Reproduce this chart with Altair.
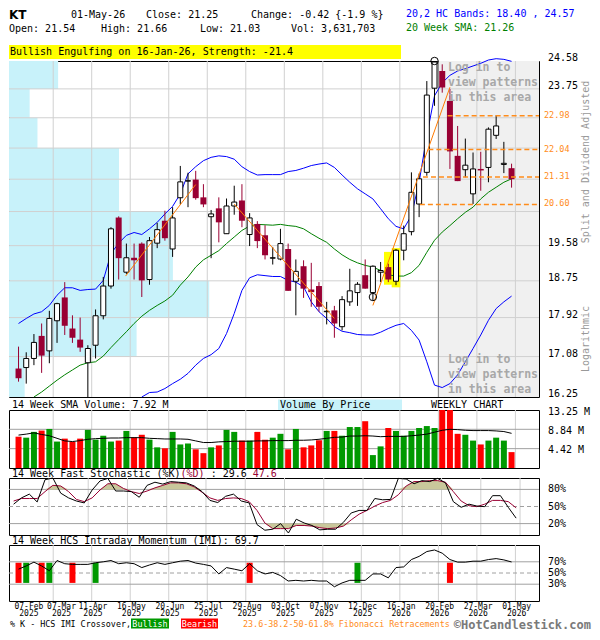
import altair as alt
import pandas as pd

# ---------------- data ----------------
weeks = list(range(65))
opens = [16.83, 16.85, 17.04, 17.52, 17.20, 17.85, 18.37, 17.68, 17.44, 16.95,
         17.32, 17.96, 18.63, 20.27, 18.95, 19.29, 19.63, 18.78, 19.64, 20.19,
         19.50, 20.77, 21.20, 21.24, 20.78, 20.29, 20.50, 19.87, 20.56, 20.70,
         19.85, 20.11, 19.83, 19.28, 19.26, 19.50, 18.74, 19.09, 18.55, 18.63,
         18.05, 18.08, 17.72, 18.27, 18.48, 18.88, 18.48, 18.95, 19.07, 18.74,
         19.47, 19.92, 20.61, 21.43, 23.77, 24.28, 23.40, 21.87, 21.50, 20.87,
         21.52, 21.56, 22.43, 21.64, 21.54]
highs = [17.29, 17.17, 17.56, 17.79, 18.07, 18.25, 18.72, 17.97, 17.92, 17.32,
         18.10, 18.84, 20.03, 20.30, 19.63, 19.63, 19.66, 19.79, 20.14, 20.44,
         20.53, 21.60, 21.42, 21.47, 21.12, 20.46, 20.78, 20.75, 21.08, 21.12,
         20.38, 20.18, 20.08, 19.55, 19.99, 19.63, 19.25, 19.23, 19.17, 18.72,
         18.27, 18.18, 18.40, 19.03, 18.72, 19.25, 19.11, 19.19, 19.15, 19.50,
         20.07, 21.43, 21.40, 23.98, 24.58, 24.48, 23.75, 22.69, 22.34, 21.96,
         21.98, 22.65, 22.99, 22.25, 21.66]
lows = [16.56, 16.52, 16.90, 16.74, 16.94, 17.37, 17.54, 17.37, 17.18, 16.19,
        17.04, 17.88, 18.57, 18.78, 18.91, 18.78, 18.38, 18.66, 19.52, 19.70,
        19.31, 20.60, 20.53, 20.72, 20.53, 19.28, 19.66, 19.87, 20.34, 20.03,
        19.57, 19.52, 19.25, 19.13, 19.23, 18.52, 17.97, 18.36, 18.16, 18.05,
        17.77, 17.48, 17.64, 18.18, 18.18, 18.57, 18.31, 18.72, 18.72, 18.65,
        19.23, 19.83, 20.28, 21.34, 23.26, 23.64, 21.52, 21.20, 21.30, 20.61,
        20.95, 21.17, 22.33, 21.41, 21.03]
closes = [16.63, 17.04, 17.38, 17.10, 17.90, 18.23, 17.74, 17.48, 17.27, 17.25,
          17.96, 18.63, 19.99, 19.28, 19.29, 19.23, 18.76, 19.70, 19.97, 19.76,
          20.26, 21.18, 21.21, 20.76, 20.60, 20.36, 20.15, 20.56, 20.66, 20.19,
          20.26, 19.69, 19.35, 19.29, 19.63, 18.52, 18.97, 18.57, 18.49, 18.16,
          18.06, 17.79, 18.32, 18.52, 18.67, 18.57, 19.09, 18.99, 18.78, 19.47,
          19.87, 20.91, 21.26, 23.57, 24.55, 23.79, 21.99, 21.20, 21.62, 21.52,
          21.48, 22.60, 22.69, 21.67, 21.25]
volume_m = [7.15, 6.93, 8.25, 8.55, 8.92, 6.04, 6.71, 5.97, 6.71, 8.70,
            6.48, 7.37, 6.04, 6.26, 8.47, 7.00, 7.59, 6.48, 4.72, 4.50,
            8.25, 5.38, 5.60, 4.27, 3.39, 4.72, 5.16, 8.70, 8.25, 6.26,
            6.26, 8.25, 6.48, 6.93, 7.81, 4.27, 8.92, 4.72, 5.16, 6.34,
            8.47, 8.47, 7.37, 9.36, 9.36, 10.69, 2.95, 4.94, 9.14, 8.47,
            7.37, 8.47, 9.14, 9.58, 9.14, 14.0, 13.6, 7.81, 7.59, 6.26,
            5.38, 6.26, 6.93, 6.26, 3.63]
vol_sma = [7.52, 7.74, 8.03, 7.66, 7.37, 6.78, 6.19, 6.04, 6.26, 6.56,
           6.71, 6.78, 6.85, 6.85, 6.93, 6.93, 6.93, 6.78, 6.71, 6.63,
           6.63, 6.63, 6.56, 6.19, 5.82, 5.82, 5.97, 6.04, 6.12, 6.12,
           6.12, 6.19, 6.19, 6.26, 6.26, 6.26, 6.34, 6.34, 6.41, 6.56,
           6.78, 7.00, 7.07, 7.30, 7.30, 7.37, 7.30, 7.15, 7.22, 7.22,
           7.22, 7.37, 7.52, 7.74, 8.18, 8.62, 8.84, 8.77, 8.62, 8.55,
           8.55, 8.55, 8.47, 8.33, 7.92]
upper_band = [17.79, 17.90, 18.00, 18.05, 18.19, 18.42, 18.59, 18.59, 18.53, 18.55,
              18.56, 18.76, 19.39, 19.64, 19.83, 19.90, 19.85, 19.99, 20.15, 20.36,
              20.55, 20.87, 21.39, 21.58, 21.74, 21.83, 21.87, 21.85, 21.78, 21.58,
              21.45, 21.36, 21.37, 21.37, 21.37, 21.45, 21.48, 21.54, 21.61, 21.65,
              21.68, 21.56, 21.36, 21.17, 21.00, 20.87, 20.74, 20.49, 20.24, 20.05,
              19.99, 20.32, 21.17, 22.42, 23.55, 23.93, 24.15, 24.28, 24.35, 24.43,
              24.51, 24.61, 24.65, 24.63, 24.57]
lower_weeks = list(range(16, 65))
lower_band = [16.25, 16.34, 16.35, 16.42, 16.52, 16.61, 16.73, 16.90, 17.04, 17.12,
              17.25, 17.57, 18.01, 18.53, 18.82, 18.89, 18.87, 18.85, 18.85, 18.76,
              18.72, 18.61, 18.27, 18.05, 17.90, 17.72, 17.62, 17.59, 17.55, 17.54,
              17.54, 17.60, 17.68, 17.75, 17.79, 17.64, 17.43, 16.97, 16.49, 16.44,
              16.52, 16.70, 16.97, 17.25, 17.54, 17.86, 18.12, 18.27, 18.40]
sma_weeks = list(range(2, 65))
sma20 = [16.25, 16.35, 16.47, 16.59, 16.70, 16.80, 16.90, 16.95, 16.97, 17.09,
         17.27, 17.44, 17.61, 17.79, 17.95, 18.08, 18.19, 18.29, 18.42,
         18.65, 18.84, 19.07, 19.24, 19.35, 19.46, 19.63, 19.79, 19.95, 20.06,
         20.10, 20.09, 20.08, 20.10, 20.07, 20.05, 19.99,
         19.87, 19.76, 19.66,
         19.50, 19.36, 19.25, 19.17, 19.11, 19.07, 18.99, 18.89, 18.86, 18.86,
         18.94, 19.11, 19.42, 19.71, 19.91,
         20.07, 20.24, 20.40, 20.53, 20.74,
         20.91, 21.04, 21.17, 21.26]
stoch_k = [54.1, 65.1, 71.7, 58.0, 97.0, 100.0, 73.4, 65.1, 59.6, 56.3,
           78.9, 94.8, 99.3, 77.2, 77.2, 76.1, 66.2, 87.1, 92.6, 89.3,
           93.7, 92.6, 91.5, 86.0, 76.1, 60.7, 56.9, 67.9, 71.7, 59.6,
           56.3, 18.3, 8.4, 10.1, 20.0, 3.5, 27.7, 21.1, 16.7, 9.0,
           10.1, 10.1, 22.2, 38.7, 43.1, 43.1, 64.0, 61.8, 62.4, 99.3,
           98.2, 89.9, 95.4, 93.7, 99.3, 91.5, 58.5, 48.6, 54.1, 50.8,
           49.7, 69.0, 69.0, 48.6, 29.6]
stoch_d = [59.6, 64.0, 64.0, 64.0, 76.1, 87.1, 86.0, 76.1, 62.4, 58.5,
           65.1, 78.9, 89.9, 89.9, 81.6, 76.1, 72.8, 77.2, 82.7, 87.1,
           91.5, 91.5, 89.9, 84.4, 75.0, 65.1, 60.7, 64.0, 65.1, 64.0,
           58.5, 43.1, 21.1, 11.2, 11.2, 11.2, 16.7, 16.7, 15.6, 12.8,
           11.2, 12.3, 15.6, 26.6, 36.5, 43.1, 50.8, 56.9, 60.7, 70.6,
           86.0, 93.7, 93.7, 95.4, 95.4, 92.6, 76.1, 59.6, 51.4, 49.7,
           54.1, 60.7, 60.7, 58.5, 47.6]
imi = [56.9, 62.6, 69.4, 62.6, 54.0, 72.3, 66.6, 65.4, 65.4, 65.4,
       68.3, 70.0, 72.3, 66.6, 68.3, 66.6, 59.7, 64.3, 68.3, 65.4,
       68.3, 71.1, 72.3, 67.7, 65.4, 62.6, 48.3, 59.7, 56.9, 54.0,
       66.6, 54.0, 48.3, 51.1, 45.4, 35.7, 36.9, 35.7, 36.9, 35.7,
       35.7, 25.4, 32.3, 36.9, 36.9, 36.9, 48.3, 48.3, 41.4, 59.7,
       60.9, 74.0, 79.7, 88.3, 91.1, 85.4, 74.0, 69.4, 69.4, 71.1,
       71.1, 74.0, 75.7, 73.4, 69.7]
xo_weeks = [0, 1, 3, 4, 7, 10, 30, 44, 56]
xo_kinds = ["Bearish", "Bullish", "Bearish", "Bullish", "Bearish", "Bullish",
            "Bearish", "Bullish", "Bearish"]
vbp_hi = [24.58, 23.75, 22.92, 22.08, 21.25, 20.42, 19.58, 18.75, 17.92, 17.08]
vbp_lo = [23.75, 22.92, 22.08, 21.25, 20.42, 19.58, 18.75, 17.92, 17.08, 16.25]
vbp_vol = [22.6, 9.5, 13.1, 50.6, 50.6, 75.4, 75.4, 92.1, 58.7, 7.2]
fib_levels = [22.98, 22.04, 21.31, 20.60]
fib_start = [55.7, 53.2, 52.5, 52.1]
trend_seg = ["a", "a", "b", "b", "c", "c"]
trend_week = [13.9, 23.0, 28.0, 41.0, 46.0, 56.0]
trend_price = [18.86, 21.11, 20.61, 17.90, 18.19, 23.80]
circle_week = [54, 46]
circle_price = [24.58, 18.38]
engulf_week = [48, 49]
engulf_top = [19.43, 19.52]
engulf_bot = [18.66, 18.60]
price_grid = [23.75, 22.92, 22.08, 21.25, 20.42, 19.58, 18.75, 17.92, 17.08]
price_ticks = [24.58, 23.75, 19.58, 18.75, 17.92, 17.08, 16.25]
vol_ticks = [13.25, 8.84, 4.42]
label_weeks = [0, 4, 9, 14, 19, 24, 29, 34, 39, 44, 49, 54, 59, 64]
label_mon = ["07-Feb", "07-Mar", "11-Apr", "16-May", "20-Jun", "25-Jul", "29-Aug",
             "03-Oct", "07-Nov", "12-Dec", "16-Jan", "20-Feb", "27-Mar", "01-May"]
label_year = ["2025"] * 10 + ["2026"] * 4
future_start = [54.5]

# ---------------- styling ----------------
FONT = "DejaVu Sans Mono"
MAROON = "#990033"
RED = "#ff0000"
GREEN = "#009900"
CYAN = "#c8f2fa"
ORANGE = "#ff7a00"
FIBC = "#ff8c1a"
GRIDC = "#d0d0d0"
MIDG = "#a0a0a0"
KHAKI = "#c9c79b"
W = 530
HP, HV, HS, HI = 336, 58, 57, 56
XDOM = [-0.5875, 66.9125]
VBP_MAX = 243.8
CW = 6.02

df = pd.DataFrame(dict(week=weeks, open=opens, high=highs, low=lows, close=closes,
                       vol=volume_m, vsma=vol_sma, k=stoch_k, d=stoch_d, imi=imi,
                       upper=upper_band))
df["up"] = df["close"] >= df["open"]
one = pd.DataFrame({"k": [0]})
grid_df = pd.DataFrame({"g": [w + 0.5 for w in label_weeks[1:]]})


def X(field="week"):
    return alt.X(f"{field}:Q", scale=alt.Scale(domain=XDOM, nice=False, zero=False), axis=None)


def txt(s, x, y, size=10, color="black", align="left", weight="normal", font=FONT,
        angle=None, baseline="middle"):
    kw = dict(text=s, fontSize=size, color=color, align=align, fontWeight=weight,
              font=font, baseline=baseline)
    if angle is not None:
        kw["angle"] = angle
    return alt.Chart(one).mark_text(**kw).encode(x=alt.value(x), y=alt.value(y))


def box(x1, x2, y1, y2, color):
    return alt.Chart(one).mark_rect(color=color).encode(
        x=alt.value(x1), x2=alt.value(x2), y=alt.value(y1), y2=alt.value(y2))


def vgrid(h):
    return alt.Chart(grid_df).mark_rule(color=GRIDC, strokeWidth=1).encode(
        x=X("g"), y=alt.value(0), y2=alt.value(h))


def hrule(vals, scale, color, dash=None):
    kw = dict(color=color, strokeWidth=1)
    if dash:
        kw["strokeDash"] = dash
    return alt.Chart(pd.DataFrame({"v": vals})).mark_rule(**kw).encode(
        y=alt.Y("v:Q", scale=scale, axis=None), x=alt.value(0), x2=alt.value(W))


# ---------------- price panel ----------------
yP = alt.Scale(type="log", domain=[16.25, 24.58], nice=False, zero=False)


def YP(f):
    return alt.Y(f"{f}:Q", scale=yP, axis=None)


vbp = alt.Chart(pd.DataFrame({"hi": vbp_hi, "lo": vbp_lo, "v": vbp_vol})).mark_rect(
    color=CYAN).encode(
    x=alt.X("v:Q", scale=alt.Scale(domain=[0, VBP_MAX], nice=False, zero=True), axis=None),
    x2=alt.value(0), y=YP("hi"), y2="lo:Q")

shade = alt.Chart(pd.DataFrame({"s": future_start})).mark_rect(color="#f0f0f0").encode(
    x=X("s"), x2=alt.value(W), y=alt.value(0), y2=alt.value(HP))
shade_edge = alt.Chart(pd.DataFrame({"s": future_start})).mark_rule(color="#888888").encode(
    x=X("s"), y=alt.value(0), y2=alt.value(HP))
hgrid = alt.Chart(pd.DataFrame({"p": price_grid})).mark_rule(color=GRIDC).encode(
    y=YP("p"), x=alt.value(0), x2=alt.value(W))

engulf = alt.Chart(pd.DataFrame({"week": engulf_week, "top": engulf_top, "bot": engulf_bot})
                   ).transform_calculate(x0="datum.week - 0.56", x1="datum.week + 0.56"
                                         ).mark_rect(color="#ffff00").encode(
    x=X("x0"), x2="x1:Q", y=YP("top"), y2="bot:Q")

band_up = alt.Chart(df).mark_line(color="#0000ff", strokeWidth=1).encode(x=X(), y=YP("upper"))
band_lo = alt.Chart(pd.DataFrame({"week": lower_weeks, "v": lower_band})).mark_line(
    color="#0000ff", strokeWidth=1).encode(x=X(), y=YP("v"))
sma_line = alt.Chart(pd.DataFrame({"week": sma_weeks, "v": sma20})).mark_line(
    color="#008000", strokeWidth=1).encode(x=X(), y=YP("v"))

wick = alt.Chart(df).mark_rule(clip=True, strokeWidth=1).encode(
    x=X(), y=YP("low"), y2="high:Q",
    color=alt.condition("datum.up", alt.value("black"), alt.value(MAROON)))
body_dn = alt.Chart(df).transform_filter("!datum.up").mark_bar(size=6, color=MAROON).encode(
    x=X(), y=YP("open"), y2="close:Q")
body_up = alt.Chart(df).transform_filter("datum.up").mark_bar(
    size=5, fill="white", stroke="black", strokeWidth=1).encode(
    x=X(), y=YP("open"), y2="close:Q")

trend = alt.Chart(pd.DataFrame({"seg": trend_seg, "week": trend_week, "p": trend_price})
                  ).mark_line(color=ORANGE, strokeWidth=1).encode(x=X(), y=YP("p"), detail="seg:N")
circles = alt.Chart(pd.DataFrame({"week": circle_week, "p": circle_price})).mark_point(
    shape="circle", size=55, filled=False, color="black", strokeWidth=1, opacity=1).encode(
    x=X(), y=YP("p"))

fib_df = pd.DataFrame({"level": fib_levels, "start": fib_start})
fib = alt.Chart(fib_df).mark_rule(color=FIBC, strokeDash=[5, 3], strokeWidth=1.5).encode(
    x=X("start"), x2=alt.value(W), y=YP("level"))
fib_lab = alt.Chart(fib_df).mark_text(align="left", fontSize=8.5, color=FIBC, font=FONT,
                                      dy=-1).encode(
    x=alt.value(W + 5), y=YP("level"), text=alt.Text("level:Q", format=".2f"))
price_lab = alt.Chart(pd.DataFrame({"p": price_ticks})).mark_text(
    align="left", fontSize=10, color="black", font=FONT, dy=-3).encode(
    x=alt.value(W + 9), y=YP("p"), text=alt.Text("p:Q", format=".2f"))

LG = "#a8a8a8"
LX = 439
login = [
    txt("Log in to", LX, 7, size=11.5, color=LG, weight="bold"),
    txt("view patterns", LX, 22, size=11.5, color=LG, weight="bold"),
    txt("in this area", LX, 37, size=11.5, color=LG, weight="bold"),
    txt("Log in to", LX, 299, size=11.5, color=LG, weight="bold"),
    txt("view patterns", LX, 314, size=11.5, color=LG, weight="bold"),
    txt("in this area", LX, 329, size=11.5, color=LG, weight="bold"),
]
side = [
    txt("Split and Dividend Adjusted", 577, 101, color="#999999", align="center", angle=270),
    txt("Logarithmic", 577, 278, color="#999999", align="center", angle=270),
]
header = [
    txt("KT", 0, -46, size=12, weight="bold", font="DejaVu Sans"),
    txt("01-May-26", 62, -46),
    txt("Close: 21.25", 137, -46),
    txt("Change: -0.42 {-1.9 %}", 242, -46),
    txt("20,2 HC Bands: 18.40 , 24.57", 397, -47, color="#0000ff"),
    txt("Open: 21.54", 0, -32),
    txt("High: 21.66", 92, -32),
    txt("Low: 21.03", 191, -32),
    txt("Vol: 3,631,703", 282, -32),
    txt("20 Week SMA: 21.26", 397, -33, color="#008000"),
    box(0, 392, -16, -2, "#ffff00"),
    txt("Bullish Engulfing on 16-Jan-26, Strength: -21.4", 1, -9),
]

inner = alt.layer(shade, vgrid(HP), hgrid, shade_edge, engulf, band_up, band_lo, sma_line,
                  wick, body_dn, body_up, trend, circles, fib, fib_lab, price_lab,
                  *login, *side, *header)
price = alt.layer(vbp, inner).resolve_scale(x="independent").properties(width=W, height=HP)

# ---------------- volume panel ----------------
vs = alt.Scale(domain=[0, 13.25], nice=False, zero=True)
vbars = alt.Chart(df).mark_bar(size=6, clip=True).encode(
    x=X(), y=alt.Y("vol:Q", scale=vs, axis=None),
    color=alt.condition("datum.up", alt.value(GREEN), alt.value(RED)))
vsma_line = alt.Chart(df).mark_line(color="black", strokeWidth=1).encode(
    x=X(), y=alt.Y("vsma:Q", scale=vs, axis=None))
vlab = alt.Chart(pd.DataFrame({"v": vol_ticks})).transform_calculate(
    t="format(datum.v, '.2f') + ' M'").mark_text(
    align="left", fontSize=10, font=FONT, color="black", dy=1.5).encode(
    x=alt.value(W + 9), y=alt.Y("v:Q", scale=vs, axis=None), text="t:N")
vol = alt.layer(
    vgrid(HV), hrule([4.42, 8.84], vs, MIDG), vbars, vsma_line, vlab,
    txt("14 Week SMA Volume: 7.92 M", 3, -5.5),
    box(269, 393, -10.5, 0, CYAN),
    txt("Volume By Price", 271, -5),
    txt("WEEKLY CHART", 422, -5.5),
).properties(width=W, height=HV)

# ---------------- stochastic panel ----------------
ss = alt.Scale(domain=[0, 100], nice=False, zero=True)
st_hi = alt.Chart(df).transform_calculate(a="max(datum.d, 80)", b="80").mark_area(
    color=KHAKI, opacity=1).encode(x=X(), y=alt.Y("a:Q", scale=ss, axis=None), y2="b:Q")
st_lo = alt.Chart(df).transform_calculate(a="min(datum.d, 20)", b="20").mark_area(
    color=KHAKI, opacity=1).encode(x=X(), y=alt.Y("a:Q", scale=ss, axis=None), y2="b:Q")
d_line = alt.Chart(df).mark_line(color=MAROON, strokeWidth=1).encode(
    x=X(), y=alt.Y("d:Q", scale=ss, axis=None))
k_line = alt.Chart(df).mark_line(color="black", strokeWidth=1).encode(
    x=X(), y=alt.Y("k:Q", scale=ss, axis=None))
st_lab = alt.Chart(pd.DataFrame({"v": [80, 50, 20]})).transform_calculate(
    t="datum.v + '%'").mark_text(align="left", fontSize=10, font=FONT, color="black").encode(
    x=alt.value(W + 9), y=alt.Y("v:Q", scale=ss, axis=None), text="t:N")
stoch = alt.layer(
    vgrid(HS), hrule([20, 80], ss, MIDG), hrule([50], ss, MIDG, dash=[4, 3]),
    st_hi, st_lo, d_line, k_line, st_lab,
    txt("14 Week Fast Stochastic (%K)", 3, -4.5),
    txt("(%D)", 3 + 28 * CW, -4.5, color=MAROON),
    txt(": 29.6", 3 + 33 * CW, -4.5),
    txt("47.6", 3 + 40 * CW, -4.5, color=MAROON),
).properties(width=W, height=HS)

# ---------------- IMI panel ----------------
ims = alt.Scale(domain=[0, 100], nice=False, zero=True)
xo = alt.Chart(pd.DataFrame({"week": xo_weeks, "kind": xo_kinds})).transform_calculate(
    lo="32.3", hi="68.3").mark_bar(size=6).encode(
    x=X(), y=alt.Y("lo:Q", scale=ims, axis=None), y2="hi:Q",
    color=alt.Color("kind:N", scale=alt.Scale(domain=["Bullish", "Bearish"], range=[GREEN, RED]),
                    legend=None))
imi_line = alt.Chart(df).mark_line(color="black", strokeWidth=1).encode(
    x=X(), y=alt.Y("imi:Q", scale=ims, axis=None))
imi_lab = alt.Chart(pd.DataFrame({"v": [70, 50, 30]})).transform_calculate(
    t="datum.v + '%'").mark_text(align="left", fontSize=10, font=FONT, color="black").encode(
    x=alt.value(W + 9), y=alt.Y("v:Q", scale=ims, axis=None), text="t:N")

lab_df = pd.DataFrame({"week": label_weeks, "mon": label_mon, "yr": label_year})
lab_x = "datum.week + (datum.week == 0 ? 1.35 : (datum.week == 4 ? 1.58 : 0.66))"
mon_lab = alt.Chart(lab_df).transform_calculate(lx=lab_x).mark_text(
    fontSize=8, font=FONT, color="black", align="center").encode(
    x=X("lx"), y=alt.value(HI + 5.5), text="mon:N")
yr_lab = alt.Chart(lab_df).transform_calculate(lx=lab_x).mark_text(
    fontSize=8, font=FONT, color="black", align="center").encode(
    x=X("lx"), y=alt.value(HI + 13), text="yr:N")

LY = HI + 22.5
imi_panel = alt.layer(
    vgrid(HI), hrule([30, 70], ims, MIDG), hrule([50], ims, MIDG, dash=[4, 3]),
    xo, imi_line, imi_lab,
    txt("14 Week HCS Intraday Momentum (IMI): 69.7", 3, -4.5),
    mon_lab, yr_lab,
    txt("% K - HCS IMI Crossover,", 1, LY, size=8.4),
    box(122, 160, LY - 5, LY + 5, GREEN),
    txt("Bullish", 141, LY, size=8.4, color="white", align="center"),
    box(172, 209, LY - 5, LY + 5, RED),
    txt("Bearish", 190.5, LY, size=8.4, color="white", align="center"),
    txt("23.6-38.2-50-61.8% Fibonacci Retracements", 234, LY, size=8.4, color=FIBC),
    txt("\u00a9HotCandlestick.com", 582, LY + 1, size=12, color="#7a7a7a", align="right",
        weight="bold"),
).properties(width=W, height=HI)

lower = alt.vconcat(vol, stoch, imi_panel, spacing=10, bounds="flush")
chart = alt.vconcat(price, lower, spacing=13, bounds="flush").properties(
    padding=0).configure_view(stroke="black", strokeWidth=1)

chart.save("out.html", embed_options={"renderer": "svg", "actions": False})
